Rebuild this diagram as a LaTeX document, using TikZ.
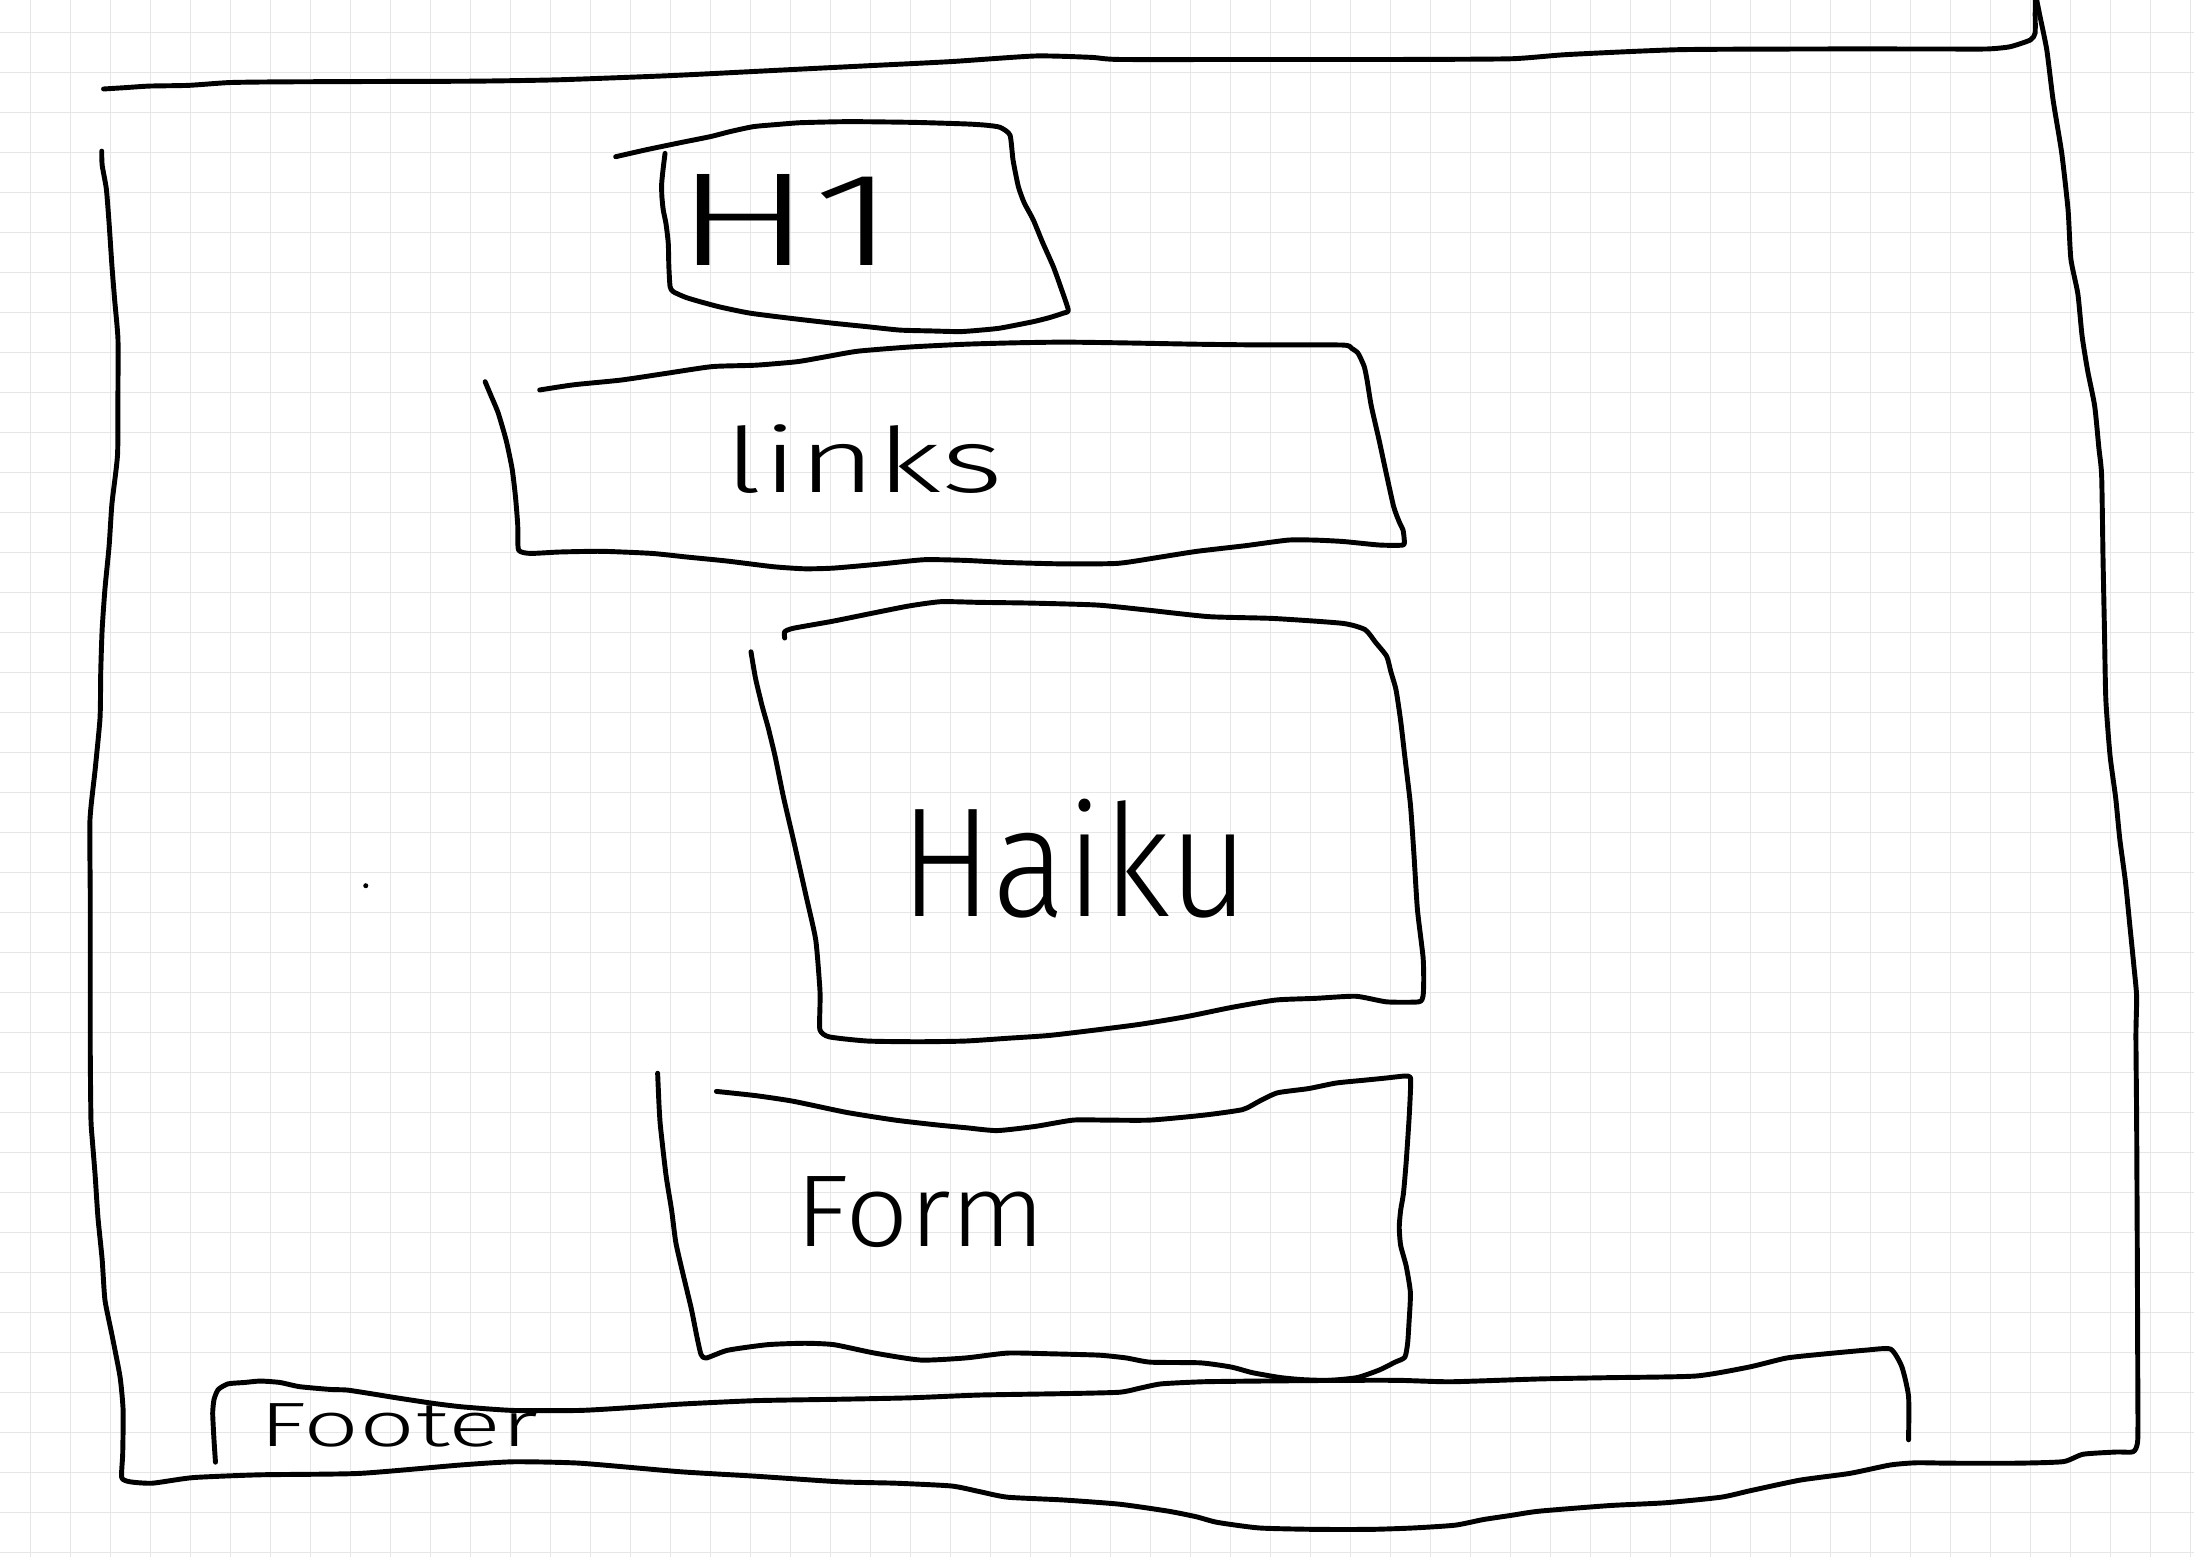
\documentclass[tikz,border=0pt]{standalone}
\usepackage{fontspec}
\usepackage{graphicx}
\newfontfamily\handfont{Fira Sans}[UprightFont={* Light}]
\definecolor{gridcol}{RGB}{230,230,230}
\tikzset{
  sketch/.style={line width=1.4pt, line cap=round, line join=round, black},
  gridline/.style={line width=0.4pt, gridcol},
  label/.style={inner sep=0pt, outer sep=0pt}
}
\begin{document}
\begin{tikzpicture}[x=0.013992cm, y=-0.013992cm]
\useasboundingbox (0,0) rectangle (1568,1113);
\fill[white] (0,0) rectangle (1568,1113);
% background grid
\foreach \k in {0,...,54} {\draw[gridline] ({21.94+28.588*\k},0) -- ({21.94+28.588*\k},1113);}
\foreach \k in {0,...,38} {\draw[gridline] (0,{23.08+28.588*\k}) -- (1568,{23.08+28.588*\k});}

% outer page frame: top edge
\draw[sketch] plot[smooth, tension=0.35] coordinates {(74,63.6) (90,62.6) (107,61.5) (135,61) (164,59) (200,58.5) (280,58.2) (340,58) (400,57) (480,54) (560,50) (620,47) (680,44) (740,40) (780,41) (800,42.5) (900,42.5) (1000,42.5) (1080,42) (1120,39) (1200,35.5) (1300,35) (1380,35) (1420,35) (1436.5,33.4) (1451,28.6) (1454.4,23.8) (1454.5,10) (1454.6,0)};
% outer page frame: right, bottom, left
\draw[sketch] plot[smooth, tension=0.35] coordinates {(1455.6,0) (1458,12) (1462.8,35.7) (1467.3,71.5) (1473.5,109.6) (1478,150) (1480,185) (1485,210) (1488,240) (1492,265) (1497,290) (1500,320) (1502,340) (1503,400) (1504,450) (1505,500) (1508,540) (1512,570) (1515,600) (1519,630) (1522,660) (1525,690) (1527,712) (1526.5,740) (1527,800) (1527.5,900) (1527.8,980) (1527.8,1029) (1524.5,1037.5) (1512.8,1037.7) (1488.8,1039.3) (1474.5,1044.6) (1441.3,1045.7) (1393.7,1045.7) (1369.8,1045.4) (1350.8,1047) (1322,1053) (1286.5,1057.8) (1250.7,1065.4) (1230,1070) (1190,1074) (1150,1076) (1100,1080) (1080,1083) (1060,1086) (1040,1090) (1010,1092) (980,1093) (940,1093) (900,1092) (870,1088) (855,1084) (835,1080) (800,1075) (760,1072) (720,1070) (700,1066) (680,1062) (640,1060) (600,1059) (540,1055) (486,1051.8) (414.5,1045.7) (366.8,1044.7) (329,1047) (257,1053) (186,1054) (138,1056) (109,1060) (93,1059) (87,1056) (87.7,1039) (88,1008) (85.8,984) (79.8,953) (75,929) (73,900) (70,870) (68,840) (66,815) (65,800) (64.5,750) (64.5,700) (64.5,640) (64.3,586) (68,550) (71.5,513) (72,480) (73,450) (75,421) (78,390) (80,360) (84,325) (84.3,280) (84.3,242) (82,215) (80,190) (78,160) (76,135) (73,118) (72.7,108)};

% H1 box
\draw[sketch] plot[smooth, tension=0.35] coordinates {(440,112) (462,107) (486,102) (507.4,97.7) (522,94) (538.4,90.5) (555,89) (571.8,87.7) (600,87) (619.4,87) (655,87.5) (691,88.6) (705,89.5) (714.7,91) (721.8,96.5) (724,114.4) (727.8,133.4) (732,145) (738.4,157) (745,173) (752.8,190.6) (758,205) (763.5,221.6) (759.9,223.8) (750,227) (738.4,229.9) (714.7,234.5) (700,236) (686,237) (665,236.5) (643,235.9) (620,233.5) (595.5,231) (565,227.5) (536,223.8) (515,219.5) (500.3,215.6) (490,212.5) (481.2,208.5) (478.9,204.9) (478,190) (477.6,173.9) (476,160) (474,150) (473,140) (472.9,131) (474,120) (475.3,109.6)};
\node[label] (h1) at (562,157.5) {\resizebox{63.6pt}{25.9pt}{\handfont H1}};

% links box
\draw[sketch] plot[smooth, tension=0.35] coordinates {(385.7,278.7) (410,275) (444,271.6) (475,267) (509,262) (540,261) (569.6,258.5) (590,255) (613,251) (650,248) (690,246) (725.4,245) (760,244.5) (800,245) (855.5,246) (900,246.5) (959.6,246.6) (966,249) (970.6,252.5) (975,262) (977,271.6) (980,290) (985.6,314.5) (990,335) (996,362) (1000,373) (1002.7,378.8) (1003.5,385) (1002.7,389.5) (985.6,389.5) (960,387) (940,386) (920.5,386) (890,390) (855.5,394) (830,398) (799,402.6) (760,403) (720,402) (690,400.5) (660.7,400) (630,403) (595.8,406) (575,406.5) (552.5,405) (520,401) (490,398) (465.8,395.5) (430,394) (400,394.5) (379,395.5) (370.6,393) (370,375) (368.4,355) (366,335) (361.7,314.5) (356,295) (351,283) (346.7,272.8)};
\node[label] (links) at (617.4,328.2) {\resizebox{79.2pt}{19.3pt}{\handfont links}};

% Haiku box
\draw[sketch] plot[smooth, tension=0.35] coordinates {(560.8,456) (560.8,451.5) (567,449) (595,444) (624.6,438) (650,433) (672.5,430) (700,430.5) (736,431) (784,432.4) (820,436) (864,440.7) (910,442) (959.6,445.5) (975.6,450) (983,459) (991,469) (994,480) (997.7,493) (1001,515) (1004,540.8) (1008,575) (1010.6,612) (1013,650) (1017,683.7) (1017.5,700) (1017,712) (1013.9,716) (991,716) (969,712) (940,713.5) (911.7,714.7) (880,720) (847.7,726.6) (815,732) (784,736) (750,740) (720.4,742) (690,744) (656.5,744.5) (620,744) (592.5,741) (586,736) (586,720) (586,707.6) (583,671.8) (576,640) (567,600) (560,570) (554,540.8) (549,520) (544.8,505) (540,485) (536.7,465.8)};
\node[label] (haiku) at (768,614) {\resizebox{99pt}{33.4pt}{\handfont Haiku}};

% Form box
\draw[sketch] plot[smooth, tension=0.35] coordinates {(470,767) (471,790) (472,805) (476,840) (480,865) (483,888) (488,910) (494,935) (498,955) (501,968) (504.6,970.6) (520,965) (548.5,961) (575,960) (596,961) (625,967) (658,972) (690,970.5) (720,967) (750,967.5) (785.5,968.5) (805,970.5) (822,973.5) (858,974) (880,977) (895,981) (915,984.5) (931,986) (950,986.5) (970,984.5) (986,979) (997,973.5) (1004,970) (1006,960) (1007,945) (1008,924) (1005,905) (1001,890) (1000,877) (1001,865) (1003,853) (1005,830) (1007,800) (1008,780) (1008,770) (1004,769) (990,770.5) (975,772) (955,774) (935,778) (913,781) (900,787) (888,793) (860,797) (822,800.5) (790,800.5) (767,800.5) (740,805) (712.6,808) (690.8,806) (670,804) (639.7,800.5) (605,795) (566.7,787) (540,783) (512,780)};
\node[label] (form) at (658,866) {\resizebox{71.1pt}{19.9pt}{\handfont Form}};

% Footer box
\draw[sketch] plot[smooth, tension=0.35] coordinates {(154,1045) (153,1030) (152,1010) (153,1000) (156,993) (163,989) (175,988) (186,987) (200,988) (214,991) (236,993) (247.8,993.4) (265,996) (283.5,999) (310,1003) (331,1005.5) (366.8,1008) (414.5,1008) (450,1006) (486,1003.5) (540,1001) (600,1000) (650,999) (700,997) (760,996) (800,995) (815,992) (830,989) (860,987.5) (900,987) (960,986.5) (1000,986.5) (1037,987.5) (1100,985.5) (1148.5,984.6) (1212,983.4) (1250,977) (1276.5,970.6) (1300,968) (1333.6,964.9) (1351.2,964.2) (1359.2,976.8) (1364,998) (1364,1029)};
\node[label] (footer) at (285,1018.7) {\resizebox{79pt}{12.2pt}{\handfont Footer}};

% stray dot
\fill (261.4,633) circle (1.8);
\end{tikzpicture}
\end{document}
